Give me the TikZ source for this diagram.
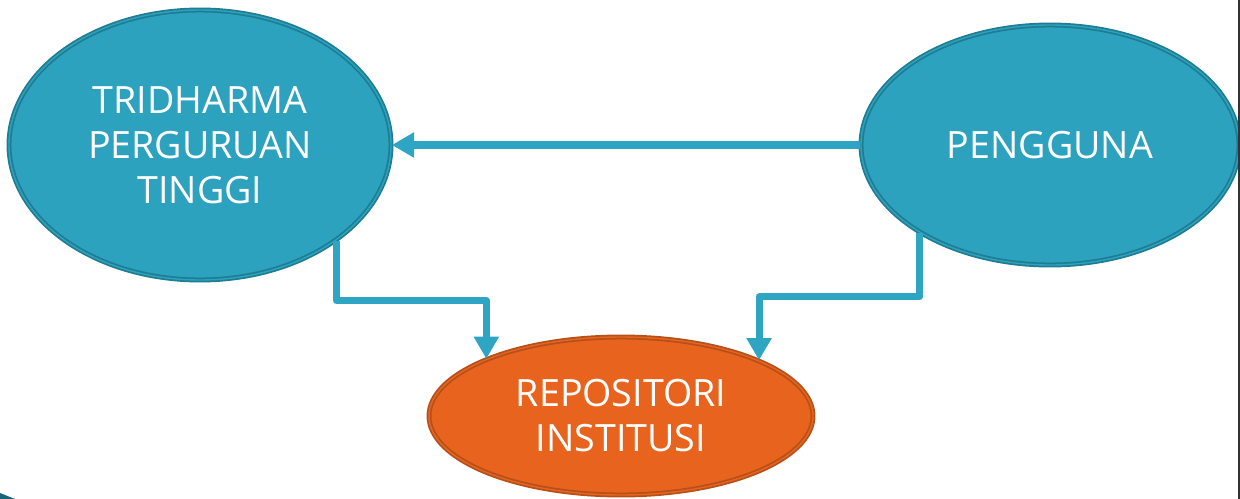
\documentclass[tikz,border=0pt]{standalone}
\usepackage{fontspec}
\setmainfont{Open Sans}
\usetikzlibrary{shapes.geometric,arrows.meta}

\definecolor{tealfill}{HTML}{2CA2BF}
\definecolor{tealedge}{HTML}{1F7D93}
\definecolor{orangefill}{HTML}{E8641E}
\definecolor{orangeedge}{HTML}{B5501A}
\definecolor{flowcol}{HTML}{2EA5C3}

\begin{document}
\begin{tikzpicture}[x=0.1mm,y=-0.1mm,
  main node/.style={ellipse,inner sep=0pt,align=center,text=white,
    line width=0.5pt,double distance=0.4pt,
    font=\fontsize{10.7}{12.8}\selectfont},
  blue node/.style={main node,fill=tealfill,draw=tealedge,double=tealfill},
  orange node/.style={main node,fill=orangefill,draw=orangeedge,double=orangefill},
  flow/.style={draw=flowcol,line width=2pt,line join=round,
    -{Triangle[width=6.8pt,length=6.3pt]}}]

  \useasboundingbox (0,0) rectangle (1240,499);

  \node[blue node,minimum width=38.2mm,minimum height=27mm] (tri) at (200,145)
    {TRIDHARMA\\PERGURUAN\\TINGGI};
  \node[blue node,minimum width=37.8mm,minimum height=24mm] (peng) at (1050,145)
    {PENGGUNA};
  \node[orange node,minimum width=38.4mm,minimum height=15.8mm] (rep) at (621,416)
    {REPOSITORI\\INSTITUSI};

  \draw[flow] (peng.west) -- (tri.east);
  \draw[flow] (tri.-35) -- ++(0,60) -| (rep.157);
  \draw[flow] (peng.-146.5) -- ++(0,64) -| (rep.22.5);

  % slide edges
  \draw[black!80,line width=0.6pt] (1239,0) -- (1239,499);
  \fill[tealedge!80!black] (0,493) -- (15,499) -- (0,499) -- cycle;
\end{tikzpicture}
\end{document}
